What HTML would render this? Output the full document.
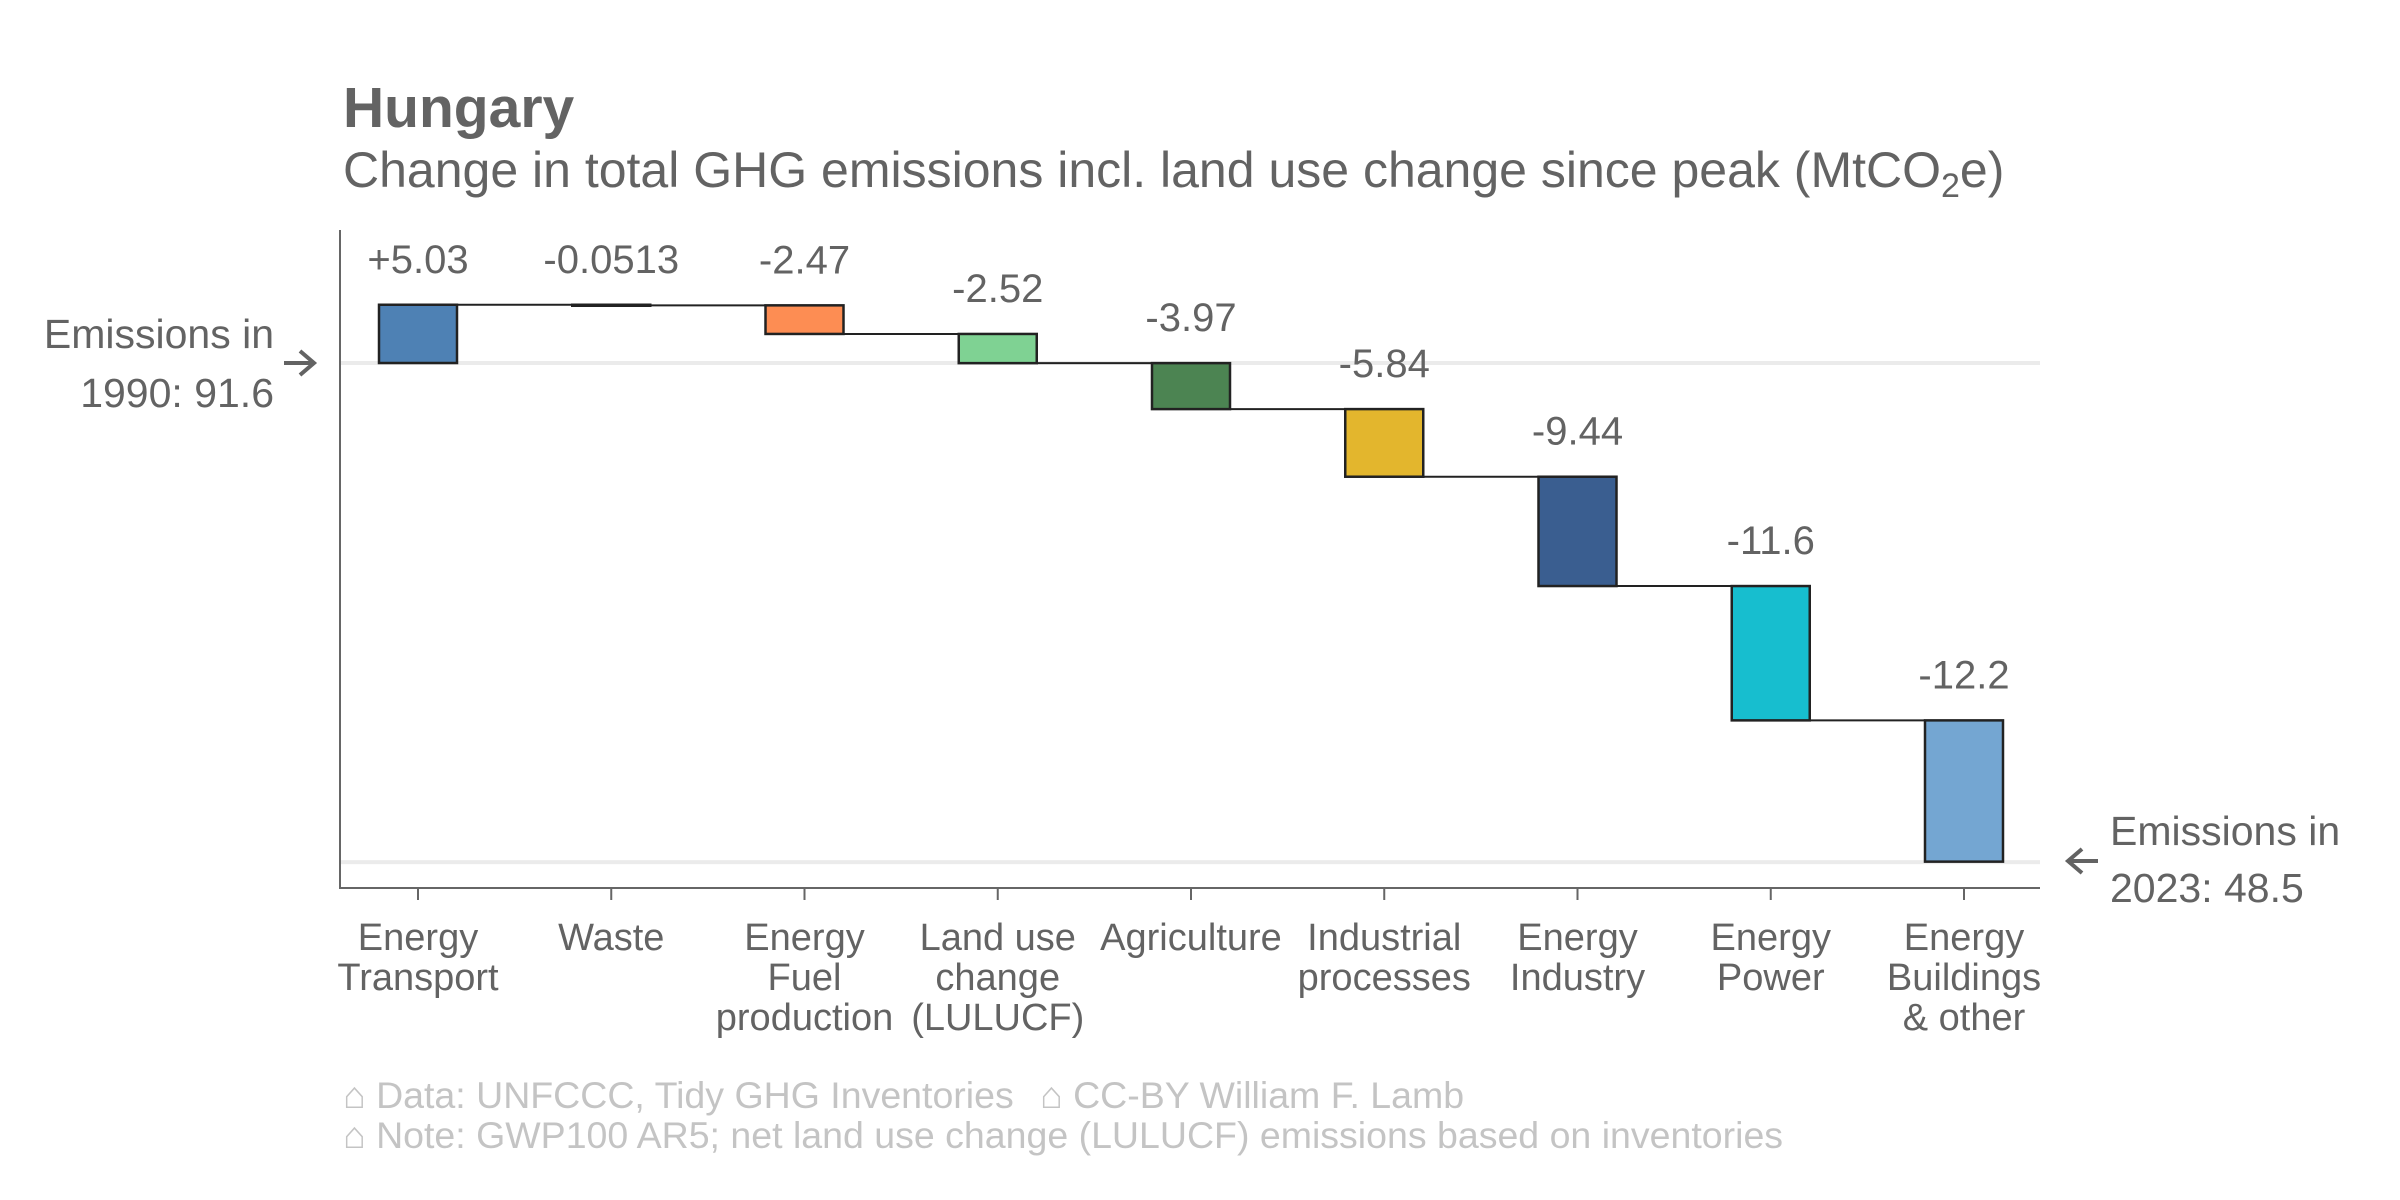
<!DOCTYPE html>
<html><head><meta charset="utf-8"><style>
html,body{margin:0;padding:0;background:#fff;}
svg{display:block;font-family:"Liberation Sans",Arial,sans-serif;}
</style></head><body>
<svg id="chart" width="2400" height="1200" viewBox="0 0 2400 1200" xmlns="http://www.w3.org/2000/svg">
<text x="343" y="127" font-size="57" font-weight="bold" fill="#636363">Hungary</text>
<text x="343" y="187" font-size="50" fill="#636363">Change in total GHG emissions incl. land use change since peak (MtCO<tspan font-size="34" dy="10">2</tspan><tspan dy="-10">e)</tspan></text>
<g id="grid"></g>
<g id="bars"></g>
<g id="axes"></g>
<text font-size="41" fill="#636363" text-anchor="end"><tspan x="274" y="348">Emissions in</tspan><tspan x="274" y="407">1990: 91.6</tspan></text>
<path d="M284 363 H314 M300 351 L314 363 L300 375" stroke="#636363" stroke-width="4" fill="none"/>
<text font-size="41" fill="#636363"><tspan x="2110" y="845">Emissions in</tspan><tspan x="2110" y="902">2023: 48.5</tspan></text>
<path d="M2098 861 H2068 M2082 849 L2068 861 L2082 873" stroke="#636363" stroke-width="4" fill="none"/>
<text font-size="37.5" fill="#c4c4c4"><tspan x="343" y="1108">⌂ Data: UNFCCC, Tidy GHG Inventories</tspan><tspan x="1040" y="1108">⌂ CC-BY William F. Lamb</tspan><tspan x="343" y="1148">⌂ Note: GWP100 AR5; net land use change (LULUCF) emissions based on inventories</tspan></text>
</svg>
<script>
const categories = [["Energy","Transport"],["Waste"],["Energy","Fuel","production"],["Land use","change","(LULUCF)"],["Agriculture"],["Industrial","processes"],["Energy","Industry"],["Energy","Power"],["Energy","Buildings","& other"]];
const deltas = [5.03, -0.0513, -2.47, -2.52, -3.97, -5.84, -9.44, -11.6, -12.2];
const valueLabels = ["+5.03","-0.0513","-2.47","-2.52","-3.97","-5.84","-9.44","-11.6","-12.2"];
const colors = ["#4e81b4","#8c8c8c","#fd8d53","#7fd293","#4c8452","#e3b62d","#3a5e90","#17becf","#74a6d2"];
const startValue = 91.6;
const endValue = 48.5;

const NS = "http://www.w3.org/2000/svg";
const X0 = 340, X1 = 2040, YTOP = 230, YBOT = 888;
const pxPerUnit = 11.58;
function y(v){ return 363 + (startValue - v) * pxPerUnit; }
const step = 193.25;
function x(i){ return 418 + i * step; }
const bw = 78;
function mk(tag, attrs, parent){ const e=document.createElementNS(NS,tag); for(const k in attrs) e.setAttribute(k,attrs[k]); parent.appendChild(e); return e; }

const grid = document.getElementById('grid');
let g1 = mk('line',{x1:X0,x2:X1,y1:y(startValue),y2:y(startValue),stroke:'#ebebeb','stroke-width':4},grid);


let g2 = mk('line',{x1:X0,x2:X1,y1:y(endValue),y2:y(endValue),stroke:'#ebebeb','stroke-width':4},grid);



const bars = document.getElementById('bars');
let cum = startValue;
for (let i=0;i<deltas.length;i++){
  const a = cum, b = cum + deltas[i];
  const top = Math.min(y(a),y(b)), bot = Math.max(y(a),y(b));
  if (i < deltas.length-1){
    const c = mk('line',{x1:x(i)+bw/2,x2:x(i+1)-bw/2,y1:y(b),y2:y(b),stroke:'#222','stroke-width':2},bars);
    
    
  }
  const r = mk('rect',{x:x(i)-bw/2,y:top,width:bw,height:Math.max(bot-top,1),fill:colors[i],stroke:'#222','stroke-width':2.5},bars);
  
  
  const t = mk('text',{x:x(i),y:top-32,'font-size':40,fill:'#636363','text-anchor':'middle'},bars);
  t.textContent = valueLabels[i];
  
  
  cum = b;
}

const axes = document.getElementById('axes');
let ya = mk('line',{x1:X0,x2:X0,y1:YTOP,y2:YBOT+1,stroke:'#666','stroke-width':2},axes);


let xa = mk('line',{x1:X0-1,x2:X1,y1:YBOT,y2:YBOT,stroke:'#666','stroke-width':2},axes);


for (let i=0;i<categories.length;i++){
  const tk = mk('line',{x1:x(i),x2:x(i),y1:YBOT,y2:YBOT+12,stroke:'#666','stroke-width':2},axes);
  
  
  const t = mk('text',{'font-size':38,fill:'#636363','text-anchor':'middle'},axes);
  
  
  categories[i].forEach((ln,j)=>{ const s=mk('tspan',{x:x(i),y:950+j*40},t); s.textContent=ln; });
}
</script>
</body></html>
